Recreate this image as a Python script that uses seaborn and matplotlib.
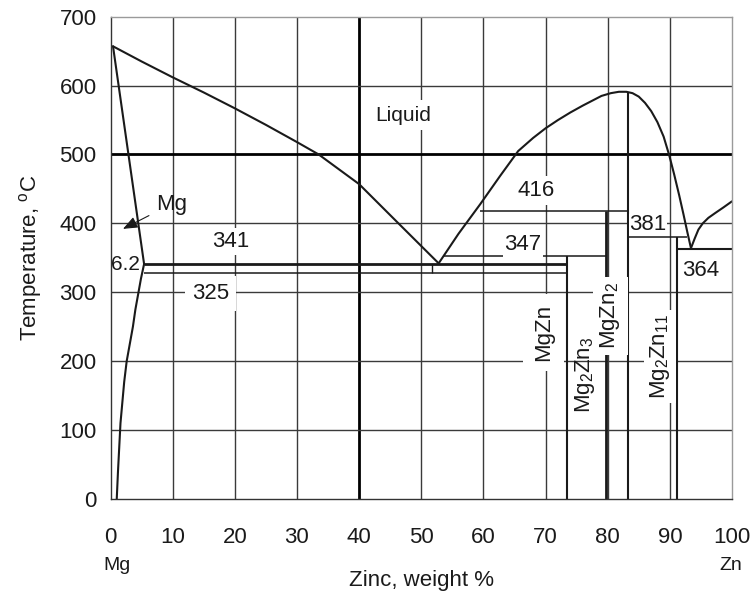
import matplotlib
matplotlib.use("Agg")
import matplotlib.pyplot as plt
import matplotlib.transforms as mtransforms
import seaborn as sns

# ---------------- data ----------------
liq_left_x = [0.4, 5, 10, 15, 20, 25, 30, 33.5, 40, 46, 52.8]
liq_left_y = [657, 635, 612, 590, 567, 543, 518, 500, 457, 403, 342]

solidus_mg_x = [0.4, 5.4]
solidus_mg_y = [657, 341]

solvus_mg_x = [5.4, 4.9, 4.5, 4.0, 3.6, 3.1, 2.6, 2.2, 1.9, 1.6, 1.4, 1.2, 1.0]
solvus_mg_y = [341, 320, 300, 275, 250, 225, 200, 170, 140, 110, 75, 40, 0]

liq_mid_x = [52.8, 56, 59.5, 62.7, 65.6, 68, 70, 72, 74, 76, 77.5, 79.0,
             80.5, 81.8, 83.0, 84.0, 85.0, 86.0, 87.0, 88.0, 89.0, 89.9,
             90.7, 91.5, 92.2, 92.8, 93.4]
liq_mid_y = [342, 385, 428, 469, 505, 524, 538, 550, 561, 571, 578, 585,
             589, 591, 591, 589, 584, 575, 563, 547, 526, 499,
             471, 441, 413, 388, 364]

liq_zn_x = [93.4, 94.0, 94.6, 95.3, 96.2, 97.3, 98.6, 100]
liq_zn_y = [364, 378, 391, 400, 408, 415, 423, 432]

# isotherms: temperature, x start, x end, line width
iso_t = [341, 328, 353, 418, 380, 363]
iso_x0 = [5.4, 5.4, 53.5, 59.5, 83.2, 91.1]
iso_x1 = [73.4, 73.4, 79.8, 83.2, 92.7, 100]
iso_w = [2.0, 1.1, 1.1, 1.1, 1.1, 1.5]

# compound lines: composition, top temperature, bottom temperature, width
comp_x = [73.4, 79.8, 83.2, 91.1, 51.7]
comp_top = [353, 418, 591, 380, 341]
comp_bot = [0, 0, 0, 0, 328]
comp_w = [1.5, 2.0, 1.5, 1.5, 1.0]

x_ticks = [0, 10, 20, 30, 40, 50, 60, 70, 80, 90, 100]
y_ticks = [0, 100, 200, 300, 400, 500, 600, 700]

# ---------------- style ----------------
sns.set_style("white")
plt.rcParams["font.family"] = ["Liberation Sans", "DejaVu Sans"]
plt.rcParams["mathtext.default"] = "regular"

FS = 16
fig, ax = plt.subplots(figsize=(7.55, 5.94), dpi=100)
fig.subplots_adjust(left=0.1464, right=0.9695, bottom=0.160, top=0.9719)

ax.set_xlim(0, 100)
ax.set_ylim(0, 700)

# grid
gcol = "#3a3a3a"
for xv in x_ticks[1:-1]:
    ax.axvline(xv, color="black" if xv == 40 else gcol,
               lw=2.0 if xv == 40 else 1.0, zorder=0.5)
for yv in y_ticks[1:-1]:
    ax.axhline(yv, color="black" if yv == 500 else gcol,
               lw=2.0 if yv == 500 else 1.0, zorder=0.5)

# curves
lk = dict(color="#1a1a1a", lw=1.5, sort=False, estimator=None, zorder=2, legend=False)
sns.lineplot(x=liq_left_x, y=liq_left_y, ax=ax, **lk)
sns.lineplot(x=solidus_mg_x, y=solidus_mg_y, ax=ax, **lk)
sns.lineplot(x=solvus_mg_x, y=solvus_mg_y, ax=ax, **lk)
sns.lineplot(x=liq_mid_x, y=liq_mid_y, ax=ax, **lk)
sns.lineplot(x=liq_zn_x, y=liq_zn_y, ax=ax, **lk)

for t, a, b, w in zip(iso_t, iso_x0, iso_x1, iso_w):
    ax.hlines(t, a, b, color="#1a1a1a", lw=w, zorder=2)
for xv, top, bot, w in zip(comp_x, comp_top, comp_bot, comp_w):
    ax.vlines(xv, bot, top, color="#1a1a1a", lw=w, zorder=2)

# spines & ticks
for s in ["top", "right"]:
    ax.spines[s].set_color("#9a9a9a")
    ax.spines[s].set_linewidth(1.0)
for s in ["left", "bottom"]:
    ax.spines[s].set_color("#333333")
    ax.spines[s].set_linewidth(1.0)
ax.set_xticks(x_ticks)
ax.set_yticks(y_ticks)
ax.tick_params(axis="both", direction="out", length=5, width=1.0, color="#333333",
               labelsize=FS, labelcolor="#1a1a1a")
ax.tick_params(axis="x", pad=15)
ax.tick_params(axis="y", pad=5)

ax.set_ylabel("Temperature, $^{o}$C", fontsize=FS, color="#1a1a1a", labelpad=11)
ax.set_xlabel("Zinc, weight %", fontsize=FS, color="#1a1a1a", labelpad=16)

trans = mtransforms.blended_transform_factory(ax.transData, ax.transAxes)
ax.text(1.0, -0.137, "Mg", transform=trans, ha="center", va="center", fontsize=14, color="#1a1a1a")
ax.text(99.8, -0.137, "Zn", transform=trans, ha="center", va="center", fontsize=14, color="#1a1a1a")

# labels
def lab(x, y, s, pad=2.0, box=True, rot=0, fs=FS):
    kw = dict(ha="center", va="center", fontsize=fs, color="#1a1a1a", rotation=rot, zorder=3)
    if box:
        kw["bbox"] = dict(boxstyle=f"square,pad={pad/fs:.3f}", fc="white", ec="none")
    ax.text(x, y, s, **kw)

lab(47.1, 557, "Liquid", pad=4, fs=15)
lab(19.3, 374, "341", pad=2)
lab(16.1, 298, "325", pad=5)
lab(66.4, 369, "347", pad=1.0)
lab(68.5, 448, "416", pad=3)
lab(86.5, 398, "381", pad=0.5)
lab(94.9, 331, "364", pad=1.0)
ax.text(4.8, 341, "6.2", ha="right", va="center", fontsize=15, color="#1a1a1a", zorder=1.5)

lab(69.7, 242, "MgZn", pad=7, rot=90)
lab(76.4, 180, "Mg$_2$Zn$_3$", box=False, rot=90)
lab(80.4, 266, "MgZn$_2$", pad=4, rot=90)
lab(88.4, 207, "Mg$_2$Zn$_{11}$", pad=3, rot=90)

ax.annotate("Mg", xy=(2.0, 392), xytext=(9.8, 428), ha="center", va="center",
            fontsize=FS, color="#1a1a1a", zorder=3,
            arrowprops=dict(arrowstyle="-|>,head_length=0.55,head_width=0.22",
                            color="#1a1a1a", lw=0.8, shrinkA=3, shrinkB=0))

fig.savefig("out.png", dpi=100)
